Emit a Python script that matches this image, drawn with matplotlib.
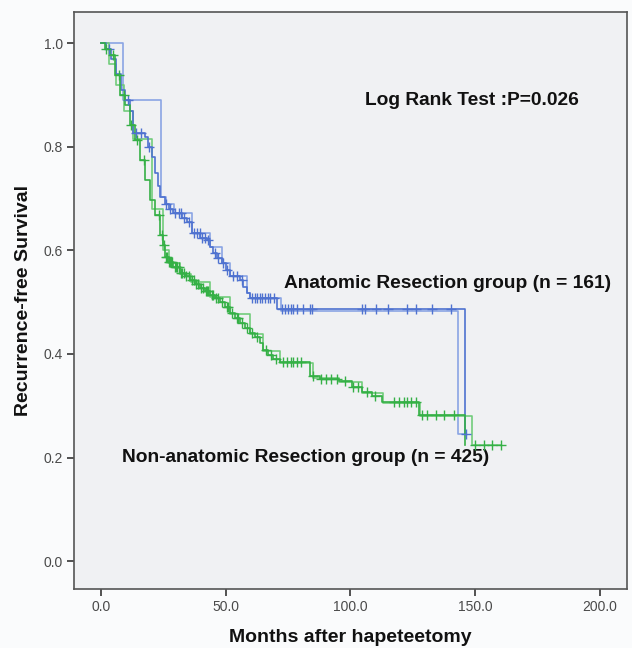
import matplotlib
matplotlib.use("Agg")
import matplotlib.pyplot as plt
import numpy as np

plt.rcParams["font.family"] = ["Liberation Sans", "DejaVu Sans"]

# Kaplan-Meier knots (month, survival)
anat_t = [0, 2, 4, 6, 8, 9.6, 11.6, 12.8, 17.6, 18.8, 20.4, 21.6, 22.6, 23.6, 25.6, 27, 28.8,
          32.4, 34.4, 36.4, 39.6, 42.4, 43.6, 44.8, 46.6, 48.4, 50, 51.6, 55.6, 57, 58.4, 59.6,
          70.4, 146]
anat_s = [1.0, 0.99, 0.97, 0.94, 0.91, 0.89, 0.87, 0.827, 0.82, 0.80, 0.78, 0.75, 0.725, 0.703,
          0.69, 0.68, 0.672, 0.663, 0.655, 0.634, 0.624, 0.62, 0.607, 0.595, 0.585, 0.576, 0.562,
          0.55, 0.543, 0.53, 0.518, 0.509, 0.486, 0.245]
anat_cens = [3, 10.5, 14, 16, 19, 26, 27.5, 29.5, 31, 32, 33, 35, 37, 38.5, 39.5, 40.5, 41.5, 43,
             45.5, 47, 49, 50.5, 53, 54.5, 56.5, 60.4, 61.6, 62.4, 63.6, 64.4, 65.6, 66.8, 67.6,
             69.2, 72.4, 73.6, 74.8, 76, 76.8, 78.4, 80.8, 83.6, 84.4, 104.8, 106, 110.4, 115.2,
             122.8, 126.4, 132.8, 140.4, 146.5]

non_t = [0, 1.6, 3.6, 5.6, 7.6, 9.6, 11.6, 13.6, 15.6, 17.6, 19.6, 21.6, 23.6, 24.8, 25.6, 27,
         28.8, 31.6, 33.5, 35.6, 37.5, 39.6, 41.5, 43.6, 45.5, 47.6, 49.5, 51.6, 53.5, 55.6, 57.5,
         59.6, 61.5, 63.6, 64.8, 67, 69, 71.6, 83.6, 87.6, 95.6, 100.8, 104.8, 108.8, 112.8,
         127.6, 146]
non_s = [1.0, 0.99, 0.977, 0.938, 0.90, 0.88, 0.842, 0.813, 0.775, 0.736, 0.697, 0.668, 0.63,
         0.61, 0.588, 0.577, 0.568, 0.557, 0.55, 0.543, 0.535, 0.528, 0.521, 0.514, 0.508, 0.501,
         0.49, 0.48, 0.47, 0.46, 0.45, 0.441, 0.432, 0.422, 0.408, 0.398, 0.39, 0.385, 0.357,
         0.351, 0.347, 0.337, 0.326, 0.318, 0.308, 0.283, 0.225]
non_cens = [2, 4.5, 7, 9, 12, 14.5, 17, 23, 24.5, 25.2, 26, 26.5, 27, 27.5, 28, 28.5, 29.5, 30,
            30.5, 31, 32, 32.5, 33, 34, 35, 36.5, 37, 38, 39, 40, 41, 42, 42.5, 43, 44.5, 45, 46,
            47, 48.5, 50.5, 51, 52.5, 54.5, 55, 56.5, 58.5, 60.5, 62.5, 66, 68, 70, 73, 74.5, 76,
            77, 78.5, 80, 85, 88, 90, 92, 94.5, 98, 101, 103, 106.5, 110, 117.6, 119.6, 121.6,
            122.8, 124.4, 126.4, 128.8, 130.8, 134.4, 137.6, 141.6, 150, 153.5, 157, 160.4]

# second (coarser) step curve drawn for each group
anat_t2 = [0, 8.8, 24, 26, 29, 36.4, 43.6, 48.4, 51.6, 58.4, 59.6, 72, 143, 146.5]
anat_s2 = [1.0, 0.89, 0.703, 0.69, 0.672, 0.634, 0.607, 0.576, 0.55, 0.518, 0.509, 0.483, 0.245,
           0.245]
non_t2 = [0, 3, 6, 9, 12.8, 20.4, 24.8, 27, 31.6, 36, 43.6, 51.6, 59.6, 64.8, 71.6, 85, 95.6,
          104.8, 113, 128, 148.8, 160.4]
non_s2 = [1.0, 0.96, 0.92, 0.87, 0.815, 0.68, 0.60, 0.575, 0.555, 0.54, 0.51, 0.478, 0.438,
          0.405, 0.382, 0.354, 0.345, 0.324, 0.305, 0.28, 0.225, 0.225]


def step_at(t, knots_t, knots_s):
    idx = np.searchsorted(knots_t, t, side="right") - 1
    return np.asarray(knots_s)[idx]


BLUE, BLUE2 = "#4f72d0", "#8aa5e4"
GREEN, GREEN2 = "#35b046", "#72cc7b"

fig = plt.figure(figsize=(6.32, 6.48), dpi=100, facecolor="#fafbfc")
ax = fig.add_axes([0.117, 0.091, 0.875, 0.890])
ax.set_facecolor("#f0f1f3")

for t, s, c in [(anat_t2, anat_s2, BLUE2), (non_t2, non_s2, GREEN2)]:
    ax.step(t, s, where="post", color=c, lw=1.2, zorder=2)

ax.step(anat_t, anat_s, where="post", color=BLUE, lw=1.2, zorder=3)
ax.plot(anat_cens, step_at(anat_cens, anat_t, anat_s), ls="none", marker="+", ms=7, mew=1.0,
        color=BLUE, zorder=4)
ax.step(non_t, non_s, where="post", color=GREEN, lw=1.2, zorder=3)
ax.plot(non_cens, step_at(non_cens, non_t, non_s), ls="none", marker="+", ms=7, mew=1.0,
        color=GREEN, zorder=4)

ax.text(148.8, 0.89, "Log Rank Test :P=0.026", ha="center", va="center", fontsize=13.8,
        fontweight="bold", color="#111111")
ax.text(73.2, 0.536, "Anatomic Resection group (n = 161)", ha="left", va="center",
        fontsize=13.8, fontweight="bold", color="#111111")
ax.text(8.4, 0.2, "Non-anatomic Resection group (n = 425)", ha="left", va="center",
        fontsize=13.8, fontweight="bold", color="#111111")

ax.set_xlim(-11, 211)
ax.set_ylim(-0.054, 1.06)
ax.set_xticks([0, 50, 100, 150, 200])
ax.set_xticklabels(["0.0", "50.0", "100.0", "150.0", "200.0"])
ax.set_yticks([0.0, 0.2, 0.4, 0.6, 0.8, 1.0])
ax.set_yticklabels(["0.0", "0.2", "0.4", "0.6", "0.8", "1.0"])
ax.tick_params(axis="both", direction="out", length=5, width=1.3, color="#444444",
               labelsize=10, labelcolor="#4a4a4a", pad=3)
for sp in ax.spines.values():
    sp.set_color("#555555")
    sp.set_linewidth(1.2)

ax.set_xlabel("Months after hapeteetomy", fontsize=14, fontweight="bold", labelpad=11,
              color="#111111")
ax.set_ylabel("Recurrence-free Survival", fontsize=14, fontweight="bold", labelpad=8,
              color="#111111")

fig.savefig("out.png", dpi=100, facecolor=fig.get_facecolor())
